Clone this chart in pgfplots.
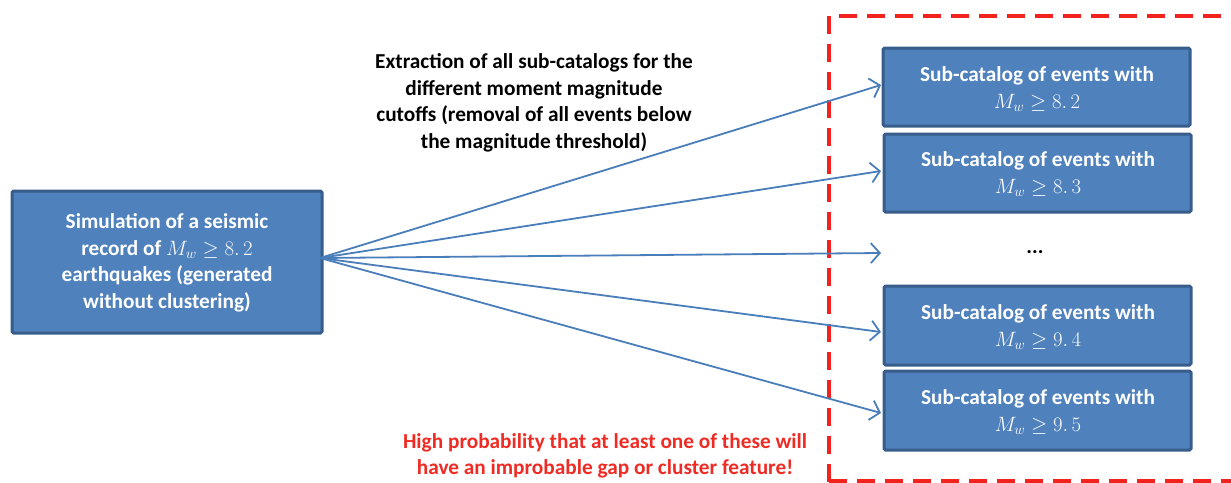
\documentclass[border=0pt]{standalone}
\usepackage{pgfplots}
\pgfplotsset{compat=1.18}
\usepackage{fontspec}
\setmainfont{Carlito}
\usetikzlibrary{arrows.meta}
\definecolor{boxfill}{HTML}{4F81BD}
\definecolor{boxdraw}{HTML}{385D8A}
\definecolor{arr}{HTML}{4A7EBB}
\definecolor{dashred}{HTML}{F2231E}
\definecolor{txtred}{HTML}{EE2B24}
\tikzset{lbl/.style={font=\bfseries\fontsize{21.3}{26.5}\selectfont, align=center, inner sep=0pt}}
\begin{document}
\begin{tikzpicture}
\begin{axis}[
  scale only axis, width=1231pt, height=482pt,
  xmin=0, xmax=1231, ymin=0, ymax=482, y dir=reverse,
  hide axis, no markers
]
% full-area invisible frame (keeps the page size)
\addplot[draw=none] coordinates {(0,0) (1231,482)};
% red dashed frame
\addplot[dashred, line width=4pt, dash pattern=on 18pt off 10pt] coordinates {(829,482) (829,16) (1231,16)};
\addplot[dashred, line width=4pt, dash pattern=on 18pt off 10pt] coordinates {(829,481) (1231,481)};
% left box
\addplot[fill=boxfill, draw=boxdraw, line width=3pt, rounded corners=1.5pt] coordinates {(12,191) (322,191) (322,333) (12,333)} -- cycle;
% right boxes
\addplot[fill=boxfill, draw=boxdraw, line width=3pt, rounded corners=1.5pt] coordinates {(883,48) (1190,48) (1190,126) (883,126)} -- cycle;
\addplot[fill=boxfill, draw=boxdraw, line width=3pt, rounded corners=1.5pt] coordinates {(884,134) (1191,134) (1191,212) (884,212)} -- cycle;
\addplot[fill=boxfill, draw=boxdraw, line width=3pt, rounded corners=1.5pt] coordinates {(884,286) (1191,286) (1191,365) (884,365)} -- cycle;
\addplot[fill=boxfill, draw=boxdraw, line width=3pt, rounded corners=1.5pt] coordinates {(884,371) (1191,371) (1191,450) (884,450)} -- cycle;
% arrows
\addplot[arr, line width=1.8pt, -{Straight Barb[length=9pt,width=20pt,line width=1.8pt]}] coordinates {(320,258) (881,85)};
\addplot[arr, line width=1.8pt, -{Straight Barb[length=9pt,width=20pt,line width=1.8pt]}] coordinates {(320,258) (881,171)};
\addplot[arr, line width=1.8pt, -{Straight Barb[length=9pt,width=20pt,line width=1.8pt]}] coordinates {(320,258) (881,253)};
\addplot[arr, line width=1.8pt, -{Straight Barb[length=9pt,width=20pt,line width=1.8pt]}] coordinates {(320,258) (881,332)};
\addplot[arr, line width=1.8pt, -{Straight Barb[length=9pt,width=20pt,line width=1.8pt]}] coordinates {(320,258) (881,413)};
% texts
\node[lbl, white] at (axis cs:167,263) {Simulation of a seismic\\record of $M_w \geq 8.\,2$\\earthquakes (generated\\without clustering)};
\node[lbl, white] at (axis cs:1037,89) {Sub-catalog of events with\\$M_w \geq 8.\,2$};
\node[lbl, white] at (axis cs:1038,174) {Sub-catalog of events with\\$M_w \geq 8.\,3$};
\node[lbl, white] at (axis cs:1038,327) {Sub-catalog of events with\\$M_w \geq 9.\,4$};
\node[lbl, white] at (axis cs:1038,412) {Sub-catalog of events with\\$M_w \geq 9.\,5$};
\node[lbl] at (axis cs:1035,252) {...};
\node[lbl] at (axis cs:534,103) {Extraction of all sub-catalogs for the\\different moment magnitude\\cutoffs (removal of all events below\\the magnitude threshold)};
\node[lbl, txtred] at (axis cs:605,456) {High probability that at least one of these will\\have an improbable gap or cluster feature!};
\end{axis}
\end{tikzpicture}
\end{document}
